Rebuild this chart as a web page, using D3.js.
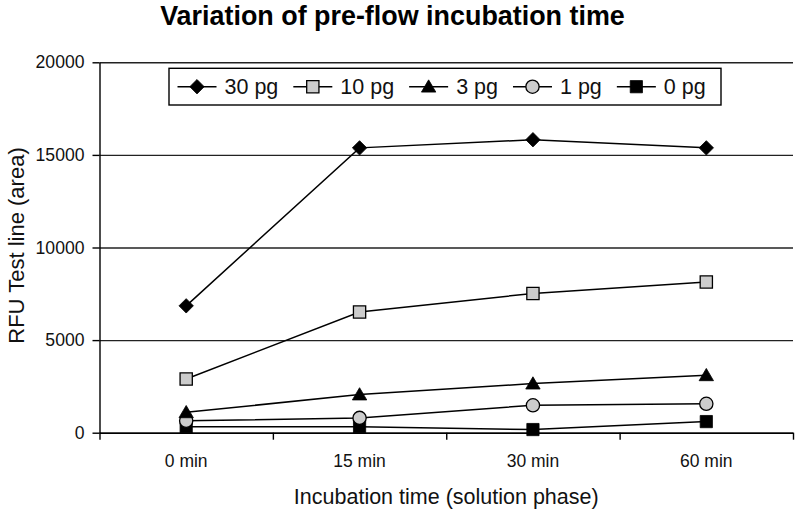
<!DOCTYPE html>
<html>
<head>
<meta charset="utf-8">
<script src="https://cdn.jsdelivr.net/npm/d3@7"></script>
<style>
  html, body { margin: 0; padding: 0; background: #fff; }
  svg { display: block; font-family: "Liberation Sans", Arial, sans-serif; }
</style>
</head>
<body>
<svg id="chart" width="800" height="513"></svg>
<script>
// ---- data ----
const categories = ["0 min", "15 min", "30 min", "60 min"];
const seriesNames = ["30 pg", "10 pg", "3 pg", "1 pg", "0 pg"];
const values30pg = [6850, 15380, 15820, 15380];
const values10pg = [2900, 6520, 7520, 8140];
const values3pg  = [1100, 2060, 2650, 3100];
const values1pg  = [640, 800, 1480, 1560];
const values0pg  = [320, 320, 170, 600];
const yTickValues = [0, 5000, 10000, 15000, 20000];
const titleText = "Variation of pre-flow incubation time";
const xTitle = "Incubation time (solution phase)";
const yTitle = "RFU Test line (area)";

(function () {
const seriesValues = [values30pg, values10pg, values3pg, values1pg, values0pg];
const markerShapes = ["diamond", "square", "triangle", "circle", "square"];
const markerFills = ["#000", "#cccccc", "#000", "#cccccc", "#000"];

const svg = d3.select("#chart");
const pLeft = 99.5, pRight = 793, pTop = 62.3, pBottom = 432.7;

const x = d3.scaleBand().domain(categories).range([pLeft, pRight]).padding(0);
const xEdges = d3.scaleLinear().domain([0, categories.length]).range([pLeft, pRight]);
const y = d3.scaleLinear().domain([0, 20000]).range([pBottom, pTop]);

// gridlines
svg.append("g")
  .attr("transform", `translate(${pLeft},0)`)
  .call(d3.axisLeft(y).tickValues(yTickValues).tickSize(-(pRight - pLeft)).tickFormat(""))
  .call(g => g.select(".domain").remove())
  .call(g => g.selectAll("line").attr("stroke", "#222").attr("stroke-width", 1.4));

// y axis
svg.append("g")
  .attr("transform", `translate(${pLeft},0)`)
  .call(d3.axisLeft(y).tickValues(yTickValues).tickSize(7).tickSizeOuter(0).tickPadding(8).tickFormat(d3.format("d")))
  .call(g => g.select(".domain").attr("stroke", "#000").attr("stroke-width", 1.4))
  .call(g => g.selectAll("line").attr("stroke", "#000").attr("stroke-width", 1.4))
  .call(g => g.selectAll("text").attr("font-size", 17.6).attr("fill", "#111")
      .attr("font-family", "Liberation Sans, Arial, sans-serif"));

// x axis (tick marks at band edges)
svg.append("g")
  .attr("transform", `translate(0,${pBottom})`)
  .call(d3.axisBottom(xEdges).tickValues(d3.range(categories.length + 1)).tickSize(7).tickSizeOuter(0).tickFormat(""))
  .call(g => g.select(".domain").attr("stroke", "#000").attr("stroke-width", 1.4))
  .call(g => g.selectAll("line").attr("stroke", "#000").attr("stroke-width", 1.4));

// x labels
svg.append("g")
  .attr("transform", `translate(0,${pBottom})`)
  .call(d3.axisBottom(x).tickSize(0).tickPadding(22))
  .call(g => g.select(".domain").remove())
  .call(g => g.selectAll("text").attr("font-size", 17.5).attr("fill", "#111")
      .attr("font-family", "Liberation Sans, Arial, sans-serif"));

function markerPath(shape, s) {
  if (shape === "diamond") return `M0,${-s}L${s},0L0,${s}L${-s},0Z`;
  if (shape === "square") return `M${-s*0.85},${-s*0.85}h${s*1.7}v${s*1.7}h${-s*1.7}Z`;
  if (shape === "triangle") return `M0,${-s*0.95}L${s},${s*0.75}L${-s},${s*0.75}Z`;
  return null;
}
function drawMarker(g, shape, fill, s) {
  if (shape === "circle") {
    g.append("circle").attr("r", s * 0.92).attr("fill", fill).attr("stroke", "#000").attr("stroke-width", 1.3);
  } else {
    g.append("path").attr("d", markerPath(shape, s)).attr("fill", fill)
      .attr("stroke", "#000").attr("stroke-width", fill === "#000" ? 0.8 : 1.3);
  }
}

const line = d3.line().x((d, i) => x(categories[i]) + x.bandwidth() / 2).y(d => y(d));

seriesValues.forEach((vals) => {
  svg.append("path").datum(vals).attr("d", line)
    .attr("fill", "none").attr("stroke", "#000").attr("stroke-width", 1.5);
});
seriesValues.slice().reverse().forEach((vals, ri) => {
  const si = seriesValues.length - 1 - ri;
  vals.forEach((v, i) => {
    const g = svg.append("g").attr("transform",
      `translate(${x(categories[i]) + x.bandwidth() / 2},${y(v)})`);
    drawMarker(g, markerShapes[si], markerFills[si], 7.2);
  });
});

// legend
const legend = svg.append("g");
const legFont = 21.5, legY = 86.7, segLen = 39, txtGap = 8, itemGap = 15;
let cx = 177.5;
seriesNames.forEach((name, si) => {
  const g = legend.append("g");
  g.append("line").attr("x1", cx).attr("x2", cx + segLen).attr("y1", legY).attr("y2", legY)
    .attr("stroke", "#000").attr("stroke-width", 1.5);
  const mg = g.append("g").attr("transform", `translate(${cx + segLen / 2},${legY})`);
  drawMarker(mg, markerShapes[si], markerFills[si], 7.2);
  const t = g.append("text").attr("x", cx + segLen + txtGap).attr("y", legY).attr("dy", "0.36em")
    .attr("font-size", legFont).attr("fill", "#111").text(name);
  cx = cx + segLen + txtGap + t.node().getComputedTextLength() + itemGap;
});
const lb = { x0: 169, x1: 721, y0: 68.3, y1: 105 };
legend.insert("rect", ":first-child")
  .attr("x", lb.x0).attr("y", lb.y0).attr("width", lb.x1 - lb.x0).attr("height", lb.y1 - lb.y0)
  .attr("fill", "#fff").attr("stroke", "#000").attr("stroke-width", 1.4);

// titles
svg.append("text").attr("x", 392.5).attr("y", 25).attr("text-anchor", "middle")
  .attr("font-size", 26.9).attr("font-weight", "bold").attr("fill", "#000").text(titleText);
svg.append("text").attr("x", (pLeft + pRight) / 2).attr("y", 504).attr("text-anchor", "middle")
  .attr("font-size", 21.5).attr("fill", "#111").text(xTitle);
svg.append("text").attr("transform", `translate(24,${(pTop + pBottom) / 2 - 2}) rotate(-90)`)
  .attr("text-anchor", "middle").attr("font-size", 22).attr("fill", "#111").text(yTitle);
})();
</script>
</body>
</html>
